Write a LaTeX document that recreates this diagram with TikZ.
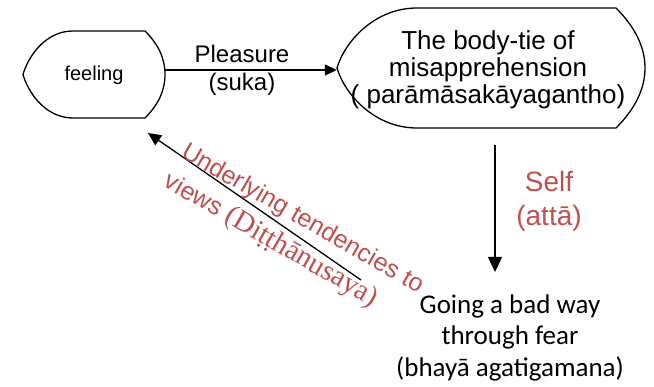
\documentclass[tikz,border=0pt]{standalone}
\usepackage{fontspec}
\setmainfont{Liberation Sans}
\newfontfamily\calib{Carlito}
\newfontfamily\tnr{Liberation Serif}
\usetikzlibrary{arrows.meta}
\definecolor{lblred}{HTML}{C0504D}
\begin{document}
\begin{tikzpicture}[x=1pt,y=-1pt,
  outline/.style={draw=black,line width=1.3pt},
  conn/.style={draw=black,line width=1.3pt,-{Triangle[length=12pt,width=11pt]}},
  txt/.style={inner sep=0pt,align=center,text=black},
  redtxt/.style={inner sep=0pt,align=center,text=lblred},
]
\useasboundingbox (0,0) rectangle (654,387);
\fill[white] (0,0) rectangle (654,387);
% feeling shape
\draw[outline] (73,31) -- (145,31) .. controls (158,44) and (165,58) .. (165,74.5)
  .. controls (165,91) and (158,105) .. (145,118) -- (73,118)
  .. controls (45,118) and (28,92) .. (23,74.5)
  .. controls (28,57) and (45,31) .. (73,31) -- cycle;
\node[txt,font=\fontsize{20}{24}\selectfont,minimum width=142pt,minimum height=87pt] (feeling) at (94,75) {feeling};
% body-tie shape
\draw[outline] (417,8) -- (616,8) .. controls (634,26) and (645,46) .. (645,68)
  .. controls (645,90) and (634,110) .. (616,128) -- (417,128)
  .. controls (375,128) and (345,95) .. (337,68)
  .. controls (345,41) and (375,8) .. (417,8) -- cycle;
\node[txt,font=\fontsize{26}{27}\selectfont,minimum width=302pt,minimum height=120pt] (body) at (488,70)
  {The body-tie of\\misapprehension\\( parāmāsakāyagantho)};
% going
\node[txt,font=\calib\fontsize{27}{31.5}\selectfont] (going) at (510,337.5)
  {Going a bad way\\through fear\\(bhayā agatigamana)};
% connectors
\coordinate (selfstart) at (495,145);
\coordinate (selfend) at (495,272);
\coordinate (viewstart) at (361,280);
\coordinate (viewend) at (148,133);
\draw[conn] ([yshift=5pt]feeling.east) -- ([yshift=5pt]feeling.east -| body.west);
\draw[conn,-{Triangle[length=15pt,width=14pt]}] (selfstart) -- (selfend);
\draw[conn,-{Triangle[length=13pt,width=12pt]}] (viewstart) -- (viewend);
% labels
\node[txt,font=\fontsize{24}{28}\selectfont] (pleasure) at (242,70) {Pleasure\\(suka)};
\node[redtxt,font=\fontsize{28}{34}\selectfont] (self) at (549,201) {Self\\(attā)};
\node[redtxt,align=left,font=\fontsize{25}{34.5}\selectfont,rotate=-30] (views) at (293.6,234.7)
  {Underlying tendencies to\\views {\tnr\fontsize{29}{34.5}\selectfont(Diṭṭhānusaya)}};
\end{tikzpicture}
\end{document}
